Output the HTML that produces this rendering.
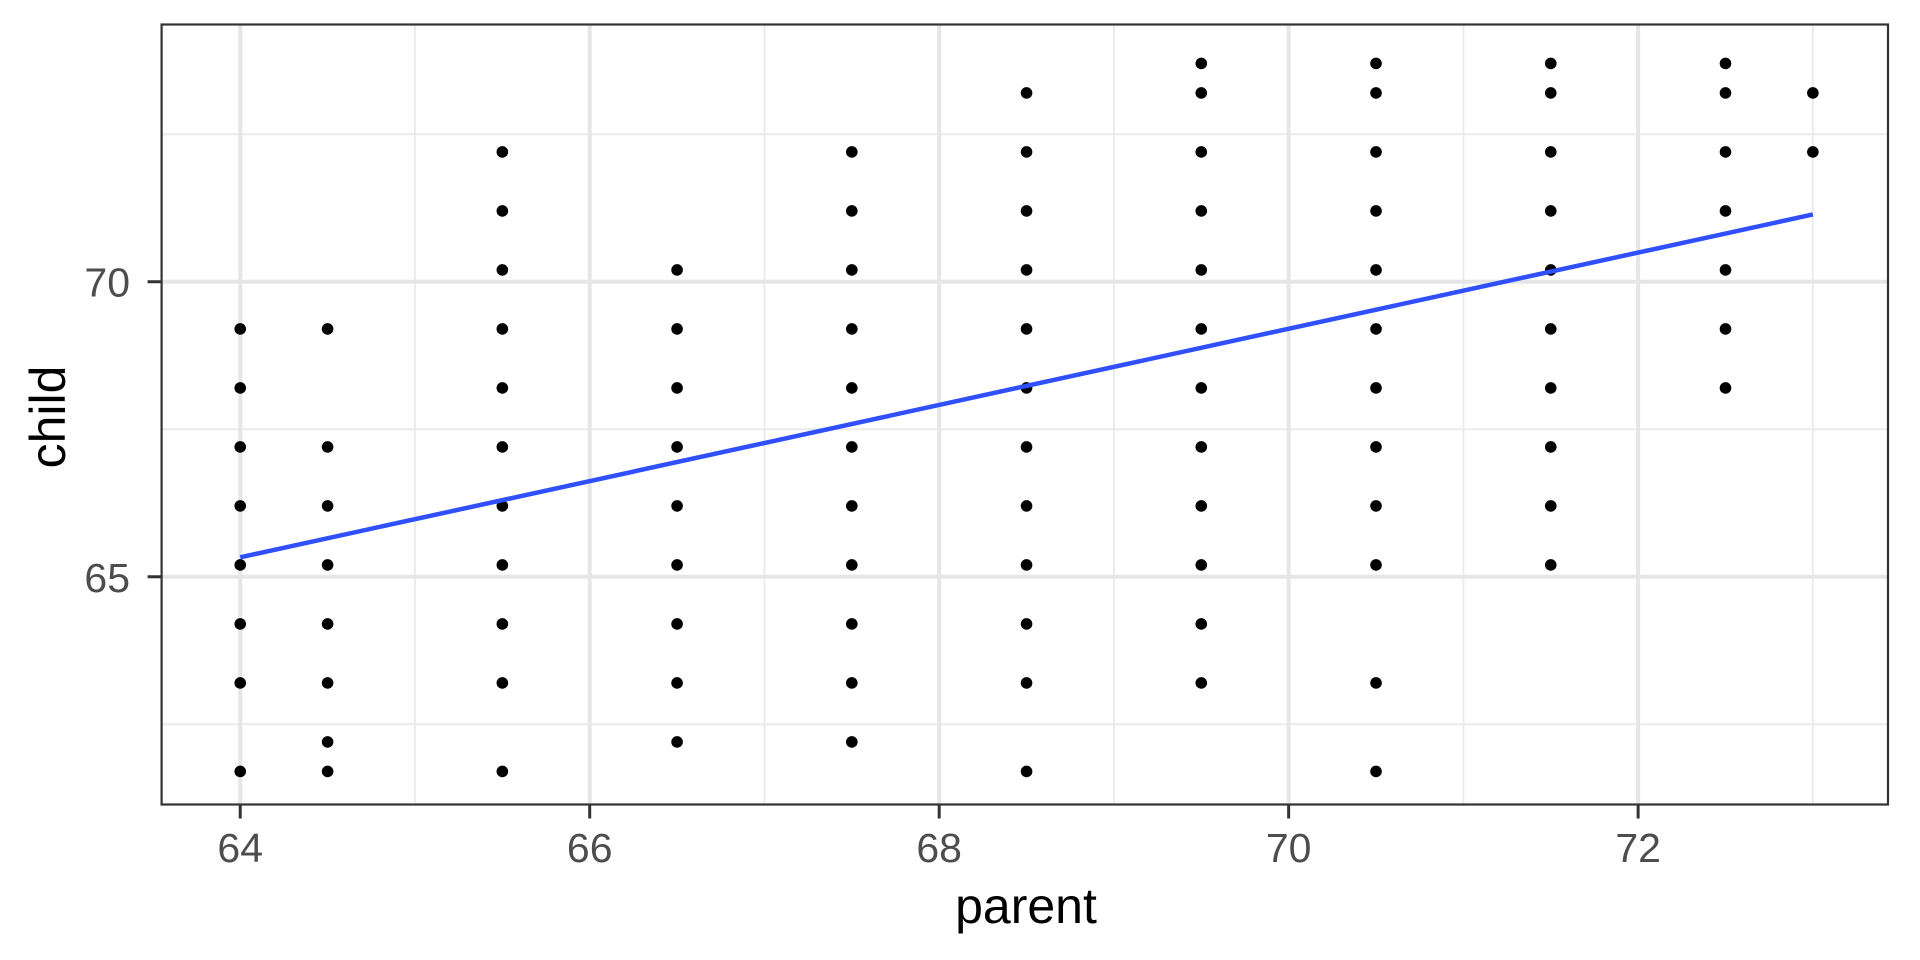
<!DOCTYPE html>
<html><head><meta charset="utf-8"><style>
html,body{margin:0;padding:0;background:#fff;}
svg{display:block;font-family:"Liberation Sans",Arial,sans-serif;}
</style></head><body>
<svg id="chart" width="1920" height="960" viewBox="0 0 1920 960" xmlns="http://www.w3.org/2000/svg">
<rect x="0" y="0" width="1920" height="960" fill="#fff"/>
<g id="grid"></g>
<g id="marks"></g>
<g id="axes"></g>
<text x="1026" y="923" font-size="50" text-anchor="middle" fill="#000">parent</text>
<text x="0" y="0" font-size="50" text-anchor="middle" fill="#000" transform="translate(65,417) rotate(-90)">child</text>
</svg>
<script>
const parents = [64, 64.5, 65.5, 66.5, 67.5, 68.5, 69.5, 70.5, 71.5, 72.5, 73];
const childValues = [
 [61.7,63.2,64.2,65.2,66.2,67.2,68.2,69.2],
 [61.7,62.2,63.2,64.2,65.2,66.2,67.2,69.2],
 [61.7,63.2,64.2,65.2,66.2,67.2,68.2,69.2,70.2,71.2,72.2],
 [62.2,63.2,64.2,65.2,66.2,67.2,68.2,69.2,70.2],
 [62.2,63.2,64.2,65.2,66.2,67.2,68.2,69.2,70.2,71.2,72.2],
 [61.7,63.2,64.2,65.2,66.2,67.2,68.2,69.2,70.2,71.2,72.2,73.2],
 [63.2,64.2,65.2,66.2,67.2,68.2,69.2,70.2,71.2,72.2,73.2,73.7],
 [61.7,63.2,65.2,66.2,67.2,68.2,69.2,70.2,71.2,72.2,73.2,73.7],
 [65.2,66.2,67.2,68.2,69.2,70.2,71.2,72.2,73.2,73.7],
 [68.2,69.2,70.2,71.2,72.2,73.2,73.7],
 [72.2,73.2]
];
const fitX = [64, 73];
const fitY = [65.33, 71.14];
const xTicks = [64, 66, 68, 70, 72];
const xMinor = [65, 67, 69, 71, 73];
const yTicks = [65, 70];
const yMinor = [62.5, 67.5, 72.5];

const L=161.6,R=1888,T=24.5,B=804.5;
const xMin=63.55,xMax=73.43,yMin=61.14,yMax=74.36;
const sx=v=>L+(v-xMin)/(xMax-xMin)*(R-L);
const sy=v=>B-(v-yMin)/(yMax-yMin)*(B-T);
const NS="http://www.w3.org/2000/svg";
function mk(tag,attrs,parent){const e=document.createElementNS(NS,tag);for(const k in attrs)e.setAttribute(k,attrs[k]);parent.appendChild(e);return e;}
const grid=document.getElementById('grid'),marks=document.getElementById('marks'),axes=document.getElementById('axes');
xMinor.forEach(v=>{const e=mk('line',{x1:sx(v),x2:sx(v),y1:T,y2:B,stroke:'#ebebeb','stroke-width':2},grid);

});
yMinor.forEach(v=>{const e=mk('line',{x1:L,x2:R,y1:sy(v),y2:sy(v),stroke:'#ebebeb','stroke-width':2},grid);

});
xTicks.forEach(v=>{const e=mk('line',{x1:sx(v),x2:sx(v),y1:T,y2:B,stroke:'#e6e6e6','stroke-width':4},grid);

});
yTicks.forEach(v=>{const e=mk('line',{x1:L,x2:R,y1:sy(v),y2:sy(v),stroke:'#e6e6e6','stroke-width':4},grid);

});
parents.forEach((p,i)=>childValues[i].forEach(c=>{const e=mk('circle',{cx:sx(p),cy:sy(c),r:5.8,fill:'#000'},marks);

}));
const fl=mk('line',{x1:sx(fitX[0]),y1:sy(fitY[0]),x2:sx(fitX[1]),y2:sy(fitY[1]),stroke:'#3050ff','stroke-width':4.5},marks);


const bd=mk('rect',{x:L,y:T,width:R-L,height:B-T,fill:'none',stroke:'#333','stroke-width':2.2},axes);


xTicks.forEach(v=>{const t=mk('line',{x1:sx(v),x2:sx(v),y1:B,y2:B+14,stroke:'#333','stroke-width':3},axes);


const l=mk('text',{x:sx(v),y:862,'font-size':41,'text-anchor':'middle',fill:'#4d4d4d'},axes);l.textContent=v;

});
yTicks.forEach(v=>{const t=mk('line',{x1:L-14,x2:L,y1:sy(v),y2:sy(v),stroke:'#333','stroke-width':3},axes);


const l=mk('text',{x:130,y:sy(v)+15,'font-size':41,'text-anchor':'end',fill:'#4d4d4d'},axes);l.textContent=v;

});
</script>
</body></html>
